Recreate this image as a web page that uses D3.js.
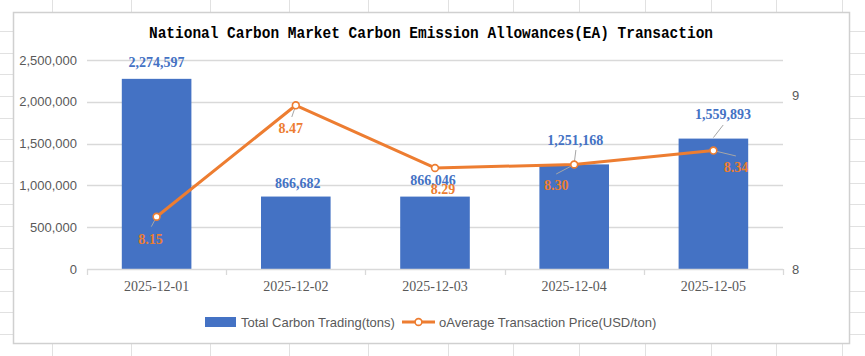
<!DOCTYPE html>
<html>
<head>
<meta charset="utf-8">
<script src="https://cdn.jsdelivr.net/npm/d3@7"></script>
<style>
  html, body { margin: 0; padding: 0; background: #ffffff; }
  svg { display: block; }
</style>
</head>
<body>
<svg id="chart" width="865" height="356"></svg>
<script>
// ---------- data ----------
const titleText = "National Carbon Market Carbon Emission Allowances(EA) Transaction";
const categories = ["2025-12-01", "2025-12-02", "2025-12-03", "2025-12-04", "2025-12-05"];
const tradingVolume = [2274597, 866682, 866046, 1251168, 1559893];
const avgPrice = [8.15, 8.47, 8.29, 8.30, 8.34];
const seriesNames = ["Total Carbon Trading(tons)", "oAverage Transaction Price(USD/ton)"];
const leftTicks = [0, 500000, 1000000, 1500000, 2000000, 2500000];
const leftDomain = [0, 2500000];
const rightDomain = [8, 8.6];
const rightTicks = [8, 8.5];
const rightTickLabels = ["8", "9"];

// ---------- layout (label placement, not data) ----------
const barLabelLayout = [
  {dx: 0,   dy: -17},
  {dx: 2,   dy: -13},
  {dx: -2,  dy: -16.5},
  {dx: 1,   dy: -24.4, leader: [1.7, -14.4]},
  {dx: 9.5, dy: -24.6, leader: [9.8, -13.6]}
];
const lineLabelLayout = [
  {dx: -6,   dy: 22,   leader: [-5.3, 9.9]},
  {dx: -5,   dy: 23,   leader: [-4, 11.7]},
  {dx: 8,    dy: 21},
  {dx: -18,  dy: 20.5, leader: [-18, 9.5]},
  {dx: 22.5, dy: 16.5, leader: [22.5, 5.4]}
];

const W = 865, H = 356;
const plot = {left: 87, right: 783, top: 60, bottom: 269};
const BAR = "#4472C4", LINE = "#ED7D31", TXT = "#595959", GRID = "#D9D9D9";

const svg = d3.select("#chart");

// spreadsheet background cell lines
const colLines = [52, 131, 210, 289, 368, 448, 513, 579, 645, 711, 776, 842];
const bg = svg.append("g");
colLines.forEach(x => bg.append("line").attr("x1", x + 0.5).attr("x2", x + 0.5)
  .attr("y1", 0).attr("y2", H).attr("stroke", "#E1E1E1").attr("stroke-width", 1));
for (let k = 0; k < 16; k++) {
  const y = Math.round(31 + k * 21.65) + 0.5;
  bg.append("line").attr("x1", 0).attr("x2", W).attr("y1", y).attr("y2", y)
    .attr("stroke", "#E1E1E1").attr("stroke-width", 1);
}

// chart area
svg.append("rect").attr("x", 13.5).attr("y", 12.5).attr("width", 836).attr("height", 331)
  .attr("fill", "#ffffff").attr("stroke", "#D0D0D0").attr("stroke-width", 1.5);

// scales
const x = d3.scaleBand().domain(categories).range([plot.left, plot.right]).paddingInner(0.5).paddingOuter(0.25);
const xc = d => x(d) + x.bandwidth() / 2;
const yL = d3.scaleLinear().domain(leftDomain).range([plot.bottom, plot.top]);
const yR = d3.scaleLinear().domain(rightDomain).range([plot.bottom, plot.top]);

// gridlines
svg.append("g").selectAll("line").data(leftTicks.filter(t => t > 0)).join("line")
  .attr("x1", plot.left).attr("x2", plot.right)
  .attr("y1", d => Math.round(yL(d)) + 0.5).attr("y2", d => Math.round(yL(d)) + 0.5)
  .attr("stroke", GRID).attr("stroke-width", 1.3);

// left axis
const gL = svg.append("g").attr("transform", `translate(${plot.left},0)`)
  .call(d3.axisLeft(yL).tickValues(leftTicks).tickSize(0).tickPadding(10).tickFormat(d3.format(",")));
gL.select(".domain").remove();
gL.selectAll("text").attr("fill", TXT).style("font-family", "'Liberation Sans', Arial, sans-serif").style("font-size", "13px");

// right axis
const gR = svg.append("g").attr("transform", `translate(${plot.right},0)`)
  .call(d3.axisRight(yR).tickValues(rightTicks).tickSize(0).tickPadding(9)
    .tickFormat((d, i) => rightTickLabels[i]));
gR.select(".domain").remove();
gR.selectAll("text").attr("fill", TXT).style("font-family", "'Liberation Sans', Arial, sans-serif").style("font-size", "13px");

// bars
svg.append("g").selectAll("rect").data(categories).join("rect")
  .attr("x", d => x(d)).attr("width", x.bandwidth())
  .attr("y", (d, i) => yL(tradingVolume[i])).attr("height", (d, i) => plot.bottom - yL(tradingVolume[i]))
  .attr("fill", BAR);

// bottom axis
const gB = svg.append("g").attr("transform", `translate(0,${plot.bottom})`)
  .call(d3.axisBottom(x).tickSize(0).tickPadding(12));
gB.select(".domain").attr("stroke", GRID).attr("stroke-width", 1.3).attr("d", `M${plot.left},0.5H${plot.right}`);
gB.selectAll("text").attr("fill", TXT).style("font-family", "'Liberation Serif', 'Times New Roman', serif").style("font-size", "14px");
const bounds = [plot.left].concat(categories.map(c => x(c) + x.bandwidth() + x.step() * x.paddingInner() / 2));
bounds[bounds.length - 1] = plot.right;
gB.selectAll(".bnd").data(bounds).join("line").attr("class", "bnd")
  .attr("x1", d => Math.round(d) + 0.5).attr("x2", d => Math.round(d) + 0.5)
  .attr("y1", 0).attr("y2", 6).attr("stroke", GRID).attr("stroke-width", 1.3);

// leader lines
const leaders = svg.append("g").attr("stroke", "#A6A6A6").attr("stroke-width", 1);
categories.forEach((c, i) => {
  const L = barLabelLayout[i];
  if (L.leader) {
    const ax = xc(c), ay = yL(tradingVolume[i]);
    leaders.append("line").attr("x1", ax).attr("y1", ay - 1).attr("x2", ax + L.leader[0]).attr("y2", ay + L.leader[1]);
  }
  const P = lineLabelLayout[i];
  if (P.leader) {
    const ax = xc(c), ay = yR(avgPrice[i]);
    leaders.append("line").attr("x1", ax).attr("y1", ay).attr("x2", ax + P.leader[0]).attr("y2", ay + P.leader[1]);
  }
});

// price line
const line = d3.line().x((d, i) => xc(categories[i])).y(d => yR(d));
svg.append("path").datum(avgPrice).attr("d", line)
  .attr("fill", "none").attr("stroke", LINE).attr("stroke-width", 3).attr("stroke-linejoin", "round");
svg.append("g").selectAll("circle").data(avgPrice).join("circle")
  .attr("cx", (d, i) => xc(categories[i])).attr("cy", d => yR(d)).attr("r", 3.4)
  .attr("fill", "#ffffff").attr("stroke", LINE).attr("stroke-width", 1.6);

// data labels
const labelFont = "'Liberation Serif', 'Times New Roman', serif";
svg.append("g").selectAll("text").data(tradingVolume).join("text")
  .attr("x", (d, i) => xc(categories[i]) + barLabelLayout[i].dx)
  .attr("y", (d, i) => yL(d) + barLabelLayout[i].dy)
  .attr("dy", "0.35em").attr("text-anchor", "middle")
  .attr("fill", BAR).style("font-family", labelFont).style("font-size", "14px").style("font-weight", "bold")
  .text(d => d3.format(",")(d));
svg.append("g").selectAll("text").data(avgPrice).join("text")
  .attr("x", (d, i) => xc(categories[i]) + lineLabelLayout[i].dx)
  .attr("y", (d, i) => yR(d) + lineLabelLayout[i].dy)
  .attr("dy", "0.35em").attr("text-anchor", "middle")
  .attr("fill", LINE).style("font-family", labelFont).style("font-size", "14px").style("font-weight", "bold")
  .text(d => d3.format(".2f")(d));

// title
svg.append("text").attr("x", 431).attr("y", 38).attr("text-anchor", "middle")
  .attr("textLength", 564).attr("lengthAdjust", "spacingAndGlyphs")
  .attr("fill", "#000000").style("font-family", "'Liberation Mono', 'Courier New', monospace")
  .style("font-size", "16px").style("font-weight", "bold")
  .text(titleText);

// legend
const lg = svg.append("g").style("font-family", "'Liberation Sans', Arial, sans-serif").style("font-size", "13px");
lg.append("rect").attr("x", 205).attr("y", 317).attr("width", 31).attr("height", 10).attr("fill", BAR);
lg.append("text").attr("x", 241).attr("y", 322).attr("dy", "0.35em").attr("fill", TXT).text(seriesNames[0]);
lg.append("line").attr("x1", 402).attr("x2", 435).attr("y1", 322).attr("y2", 322)
  .attr("stroke", LINE).attr("stroke-width", 3);
lg.append("circle").attr("cx", 418.5).attr("cy", 322).attr("r", 3.4)
  .attr("fill", "#ffffff").attr("stroke", LINE).attr("stroke-width", 1.6);
lg.append("text").attr("x", 439).attr("y", 322).attr("dy", "0.35em").attr("fill", TXT).text(seriesNames[1]);
</script>
</body>
</html>
